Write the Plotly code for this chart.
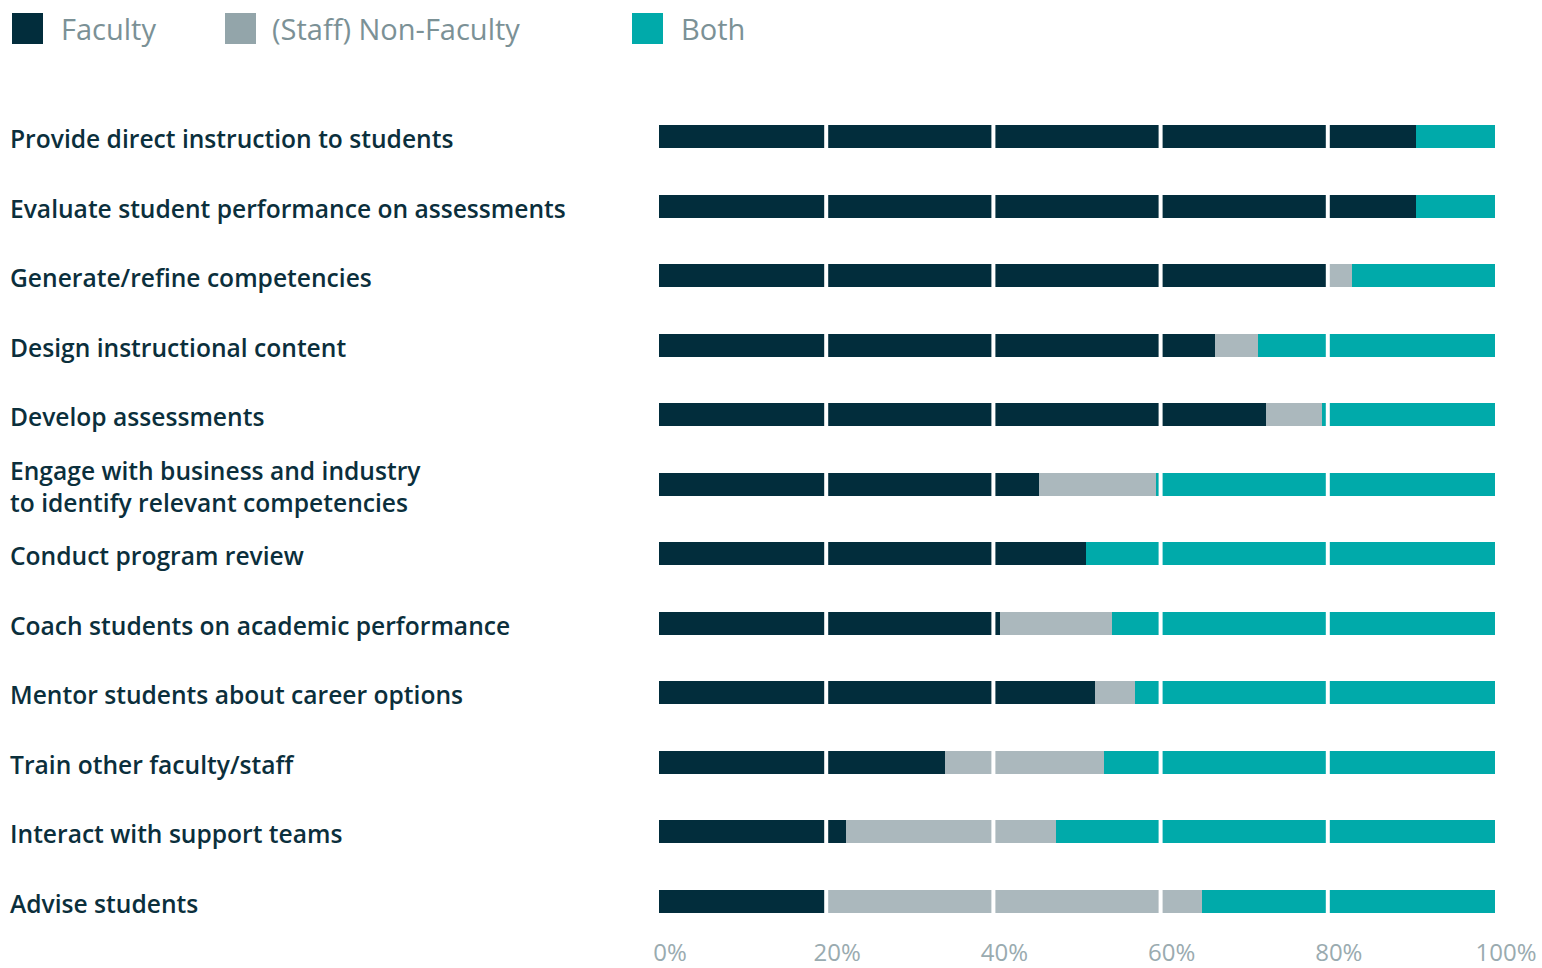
import plotly.graph_objects as go

# Data (percent of respondents per task)
tasks = [
    "Provide direct instruction to students",
    "Evaluate student performance on assessments",
    "Generate/refine competencies",
    "Design instructional content",
    "Develop assessments",
    "Engage with business and industry<br>to identify relevant competencies",
    "Conduct program review",
    "Coach students on academic performance",
    "Mentor students about career options",
    "Train other faculty/staff",
    "Interact with support teams",
    "Advise students",
]
faculty = [90.5, 90.5, 79.8, 66.5, 72.6, 45.5, 51.1, 40.8, 52.2, 34.2, 22.4, 20.0]
non_faculty = [0.0, 0.0, 3.1, 5.1, 6.7, 14.0, 0.0, 13.4, 4.7, 19.0, 25.1, 45.0]
both = [9.5, 9.5, 17.1, 28.4, 20.7, 40.5, 48.9, 45.8, 43.1, 46.8, 52.5, 35.0]

series_names = ["Faculty", "(Staff) Non-Faculty", "Both"]
series_colors = ["#022d3c", "#abb8bd", "#00aaaa"]
legend_colors = ["#022d3c", "#93a5aa", "#00aaaa"]
x_ticks = [0, 20, 40, 60, 80, 100]
x_tick_text = ["0%", "20%", "40%", "60%", "80%", "100%"]

W, H = 1542, 968
MT, MB = 102, 32
LABEL_COLOR = "#0b2f3c"
TICK_COLOR = "#9aabb0"
FONT = "Open Sans"


def px_x(v):
    return v / W


def px_y(v):
    # pixel from top of page -> paper coordinate (paper = plot area vertically)
    return (H - MB - v) / (H - MT - MB)


fig = go.Figure()
for name, vals, color in zip(series_names, [faculty, non_faculty, both], series_colors):
    fig.add_trace(go.Bar(y=tasks, x=vals, name=name, orientation="h",
                         marker=dict(color=color, line=dict(width=0)),
                         showlegend=False, hoverinfo="x+y"))

fig.update_layout(
    width=W, height=H,
    barmode="stack", bargap=0.67,
    paper_bgcolor="white", plot_bgcolor="white",
    margin=dict(l=0, r=0, t=MT, b=MB, autoexpand=False),
    font=dict(family=FONT),
    xaxis=dict(domain=[px_x(659), px_x(1495)], range=[0, 100], automargin=False,
               tickmode="array", tickvals=x_ticks, ticktext=x_tick_text,
               showgrid=False, zeroline=False, showline=False,
               tickfont=dict(size=24, color=TICK_COLOR, family=FONT),
               ticklabelshift=11, ticklabelstandoff=0),
    yaxis=dict(categoryorder="array", categoryarray=tasks, range=[11.5, -0.5],
               automargin=False,
               showticklabels=False, showgrid=False, zeroline=False, showline=False),
)

# white separators at the inner tick values, drawn over the bars
for t in x_ticks[1:-1]:
    fig.add_shape(type="line", xref="x", yref="paper", x0=t, x1=t, y0=0, y1=1,
                  line=dict(color="white", width=4), layer="above")

# category labels, left aligned
for task in tasks:
    fig.add_annotation(x=px_x(8), xref="paper", y=task, yref="y", text=task,
                       xanchor="left", yanchor="middle", align="left", showarrow=False,
                       yshift=-2,
                       font=dict(size=24.6, color=LABEL_COLOR, family=FONT, weight=600))

# custom legend at top
legend_sq_x = [12, 225, 632]
legend_txt_x = [59, 270, 679]
for name, color, sx, tx in zip(series_names, legend_colors, legend_sq_x, legend_txt_x):
    fig.add_shape(type="rect", xref="paper", yref="paper",
                  x0=px_x(sx), x1=px_x(sx + 31), y0=px_y(44), y1=px_y(13),
                  fillcolor=color, line=dict(width=0))
    fig.add_annotation(x=px_x(tx), xref="paper", y=px_y(28), yref="paper", text=name,
                       xanchor="left", yanchor="middle", showarrow=False,
                       font=dict(size=29, color="#7b9196", family=FONT))

fig.write_html("out.html", config={"displayModeBar": False},
               post_script="document.body.style.margin='0';document.body.style.overflow='hidden';")
